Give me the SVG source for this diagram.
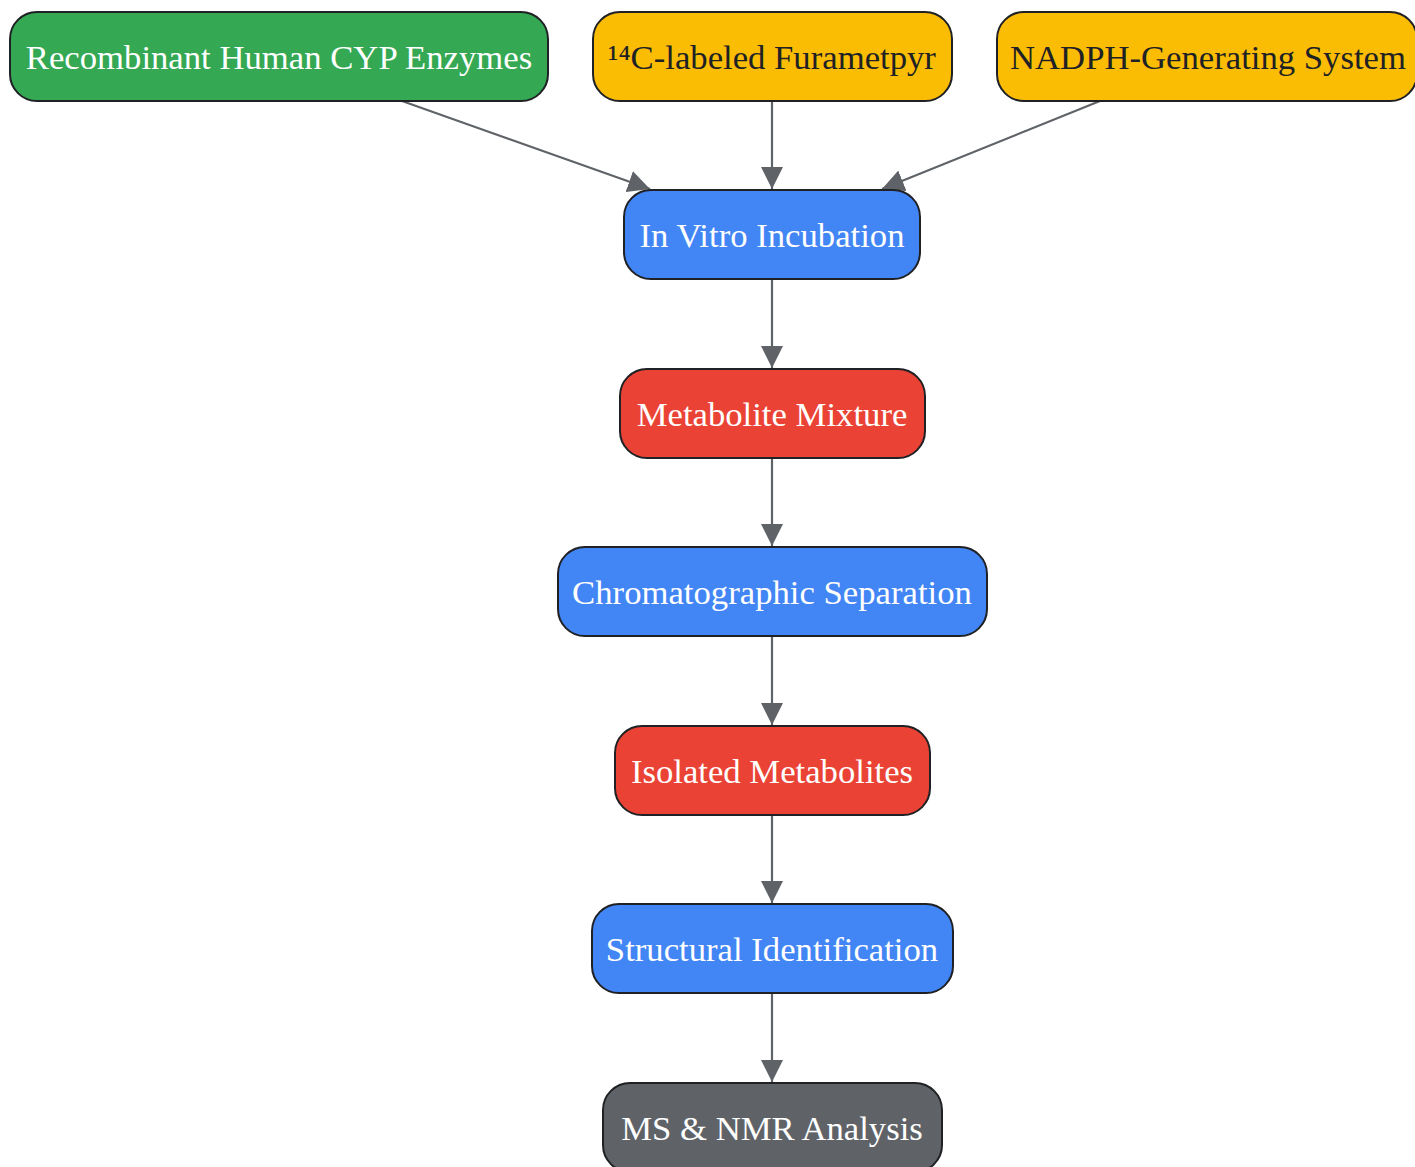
<svg xmlns="http://www.w3.org/2000/svg" width="1415" height="1167" viewBox="0 0 1415 1167">
<style>
.n rect{stroke:#202124;stroke-width:2}
.n text{font-family:"Liberation Serif","Times New Roman",serif;font-size:34.7px;text-anchor:middle}
.w{fill:#ffffff}
.d{fill:#202124}
.e line{stroke:#5f6368;stroke-width:2.2;marker-end:url(#ah)}
</style>
<defs>
<marker id="ah" viewBox="0 0 22 22" refX="22" refY="11" markerWidth="22" markerHeight="22" markerUnits="userSpaceOnUse" orient="auto">
<path d="M0,0 L22,11 L0,22 Z" fill="#5f6368"/>
</marker>
</defs>
<g id="edges" class="e">
<line x1="402" y1="101" x2="650" y2="189"/>
<line x1="772" y1="101" x2="772" y2="189"/>
<line x1="1100" y1="101" x2="882" y2="189"/>
<line x1="772" y1="280" x2="772" y2="368"/>
<line x1="772" y1="459" x2="772" y2="546"/>
<line x1="772" y1="637" x2="772" y2="725"/>
<line x1="772" y1="816" x2="772" y2="903"/>
<line x1="772" y1="994" x2="772" y2="1082"/>
</g>
<g id="recombinant" class="n"><rect x="10" y="12" width="538" height="89" rx="27" fill="#34a853"/><text x="279" y="69" class="w">Recombinant Human CYP Enzymes</text></g>
<g id="furametpyr" class="n"><rect x="593" y="12" width="359" height="89" rx="27" fill="#fbbc04"/><text x="772" y="69" class="d">¹⁴C-labeled Furametpyr</text></g>
<g id="nadph" class="n"><rect x="997" y="12" width="420" height="89" rx="27" fill="#fbbc04"/><text x="1208" y="69" class="d">NADPH-Generating System</text></g>
<g id="incubation" class="n"><rect x="624" y="190" width="296" height="89" rx="27" fill="#4285f4"/><text x="772" y="247" class="w">In Vitro Incubation</text></g>
<g id="mixture" class="n"><rect x="620" y="369" width="305" height="89" rx="27" fill="#ea4335"/><text x="772" y="426" class="w">Metabolite Mixture</text></g>
<g id="separation" class="n"><rect x="558" y="547" width="429" height="89" rx="27" fill="#4285f4"/><text x="772" y="604" class="w">Chromatographic Separation</text></g>
<g id="isolated" class="n"><rect x="615" y="726" width="315" height="89" rx="27" fill="#ea4335"/><text x="772" y="783" class="w">Isolated Metabolites</text></g>
<g id="structural" class="n"><rect x="592" y="904" width="361" height="89" rx="27" fill="#4285f4"/><text x="772" y="961" class="w">Structural Identification</text></g>
<g id="msnmr" class="n"><rect x="603" y="1083" width="339" height="89" rx="27" fill="#5f6368"/><text x="772" y="1140" class="w">MS &amp; NMR Analysis</text></g>
</svg>
